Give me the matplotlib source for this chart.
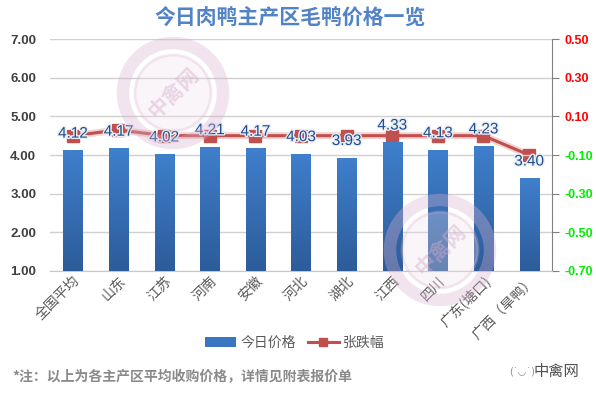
import numpy as np
import matplotlib
matplotlib.use("Agg")
import matplotlib.pyplot as plt
from matplotlib.patches import Ellipse, Patch
from matplotlib.lines import Line2D
import matplotlib.patheffects as pe

plt.rcParams['font.family'] = ['Noto Sans CJK SC', 'DejaVu Sans']

regions = ['全国平均', '山东', '江苏', '河南', '安徽', '河北', '湖北', '江西', '四川', '广东(塘口)', '广西（旱鸭）']
price = [4.12, 4.17, 4.02, 4.21, 4.17, 4.03, 3.93, 4.33, 4.13, 4.23, 3.40]
change = [0.00, 0.03, 0.00, 0.00, 0.00, 0.00, 0.00, 0.00, 0.00, 0.00, -0.10]

left_ticks = [1, 2, 3, 4, 5, 6, 7]
right_ticks = [-0.7, -0.5, -0.3, -0.1, 0.1, 0.3, 0.5]

W, H = 596, 399
fig = plt.figure(figsize=(W / 100, H / 100), dpi=100)
ax = fig.add_axes([0.084, 0.321, 0.842, 0.581])
ax2 = ax.twinx()

x = np.arange(len(regions))
bars = ax.bar(x, [p - 1 for p in price], bottom=1, width=0.42, color='#3a75c0', zorder=3)

# vertical gradient on the bars
grad = np.linspace(0, 1, 100).reshape(-1, 1)
cmap = matplotlib.colors.LinearSegmentedColormap.from_list('b', ['#2d5c9a', '#3f7fcc'])
for b in bars:
    bx, by = b.get_x(), b.get_y()
    im = ax.imshow(grad, aspect='auto', cmap=cmap, origin='lower',
                   extent=[bx, bx + b.get_width(), by, by + b.get_height()], zorder=3)
    im.set_clip_path(b)

ax.set_xlim(-0.5, len(regions) - 0.5)
ax.set_ylim(1, 7)
ax.set_yticks(left_ticks)
ax.set_yticklabels(['%.2f' % v for v in left_ticks], color='#404040', fontsize=9.5, weight='bold',
                   family='Liberation Sans')
ax.grid(axis='y', color='#d0d0d0', lw=1, zorder=0)
ax.set_axisbelow(True)
for s in ['top', 'left', 'right']:
    ax.spines[s].set_visible(False)
ax.spines['bottom'].set_color('#c8c8c8')
ax.tick_params(axis='y', length=0, pad=10)
ax.tick_params(axis='x', length=0, pad=2)
ax.set_xticks(x)
ax.set_xticklabels(regions, rotation=45, ha='right', rotation_mode='anchor',
                   fontsize=10, color='#595959')

ax2.plot(x, change, color='#e8a8a6', lw=5, alpha=0.5, zorder=4)
ax2.plot(x, change, color='#c0504d', lw=2.2, marker='s', markersize=9, zorder=5)
ax2.set_ylim(-0.7, 0.5)
ax2.set_yticks(right_ticks)
ax2.set_yticklabels(['%.2f' % v for v in right_ticks], fontsize=9, weight='bold',
                    family='Liberation Sans')
for lab, v in zip(ax2.get_yticklabels(), right_ticks):
    lab.set_color('#ff0000' if v > 0 else '#00ee00')
for s in ['top', 'left', 'bottom']:
    ax2.spines[s].set_visible(False)
ax2.spines['right'].set_color('#808080')
ax2.tick_params(axis='y', length=5, color='#808080', pad=4)

for i, p in enumerate(price):
    ax.annotate('%.2f' % p, xy=(i, p), xytext=(0, 7), textcoords='offset points',
                ha='center', va='bottom', fontsize=11, color='#1f4e8c',
                family='Liberation Sans', zorder=6,
                path_effects=[pe.withStroke(linewidth=2, foreground='#e8eef8')])
ax.set_zorder(ax2.get_zorder() + 1)
ax.patch.set_visible(False)

# faint watermark logos
for cx, cy in [(173, 93), (440, 250)]:
    fx, fy = cx / W, 1 - cy / H
    fig.patches.append(Ellipse((fx, fy), 2 * 50 / W, 2 * 50 / H, transform=fig.transFigure,
                               fc='none', ec='#d9b3cf', lw=9, alpha=0.35, zorder=10))
    fig.patches.append(Ellipse((fx, fy), 2 * 38 / W, 2 * 38 / H, transform=fig.transFigure,
                               fc='#efe0ec', ec='#d9b3cf', lw=2, alpha=0.3, zorder=10))
    fig.text(fx, fy, '中禽网', rotation=45, ha='center', va='center', fontsize=15,
             color='#d4aecb', weight='bold', alpha=0.45, zorder=11)

fig.text(0.487, 0.955, '今日肉鸭主产区毛鸭价格一览', ha='center', va='center',
         fontsize=15, weight='bold', color='#5283c6')

handles = [Patch(fc='#3a75c0'), Line2D([], [], color='#c0504d', lw=2.2, marker='s', markersize=6)]
fig.legend(handles, ['今日价格', '张跌幅'], loc='center', bbox_to_anchor=(0.495, 0.14),
           ncol=2, frameon=False, fontsize=10, labelcolor='#595959',
           handlelength=2.2, columnspacing=0.9, handletextpad=0.3)

fig.text(0.02, 0.055, '*注：以上为各主产区平均收购价格，详情见附表报价单', ha='left', va='center',
         fontsize=10, weight='bold', color='#8a8a8a')
fig.text(0.972, 0.068, '中禽网', ha='right', va='center', fontsize=11, color='#505050')
fig.text(0.876, 0.068, '(˙◡˙)', ha='center', va='center', fontsize=7, color='#909090',
         family='DejaVu Sans')

fig.savefig('out.png', dpi=100)
